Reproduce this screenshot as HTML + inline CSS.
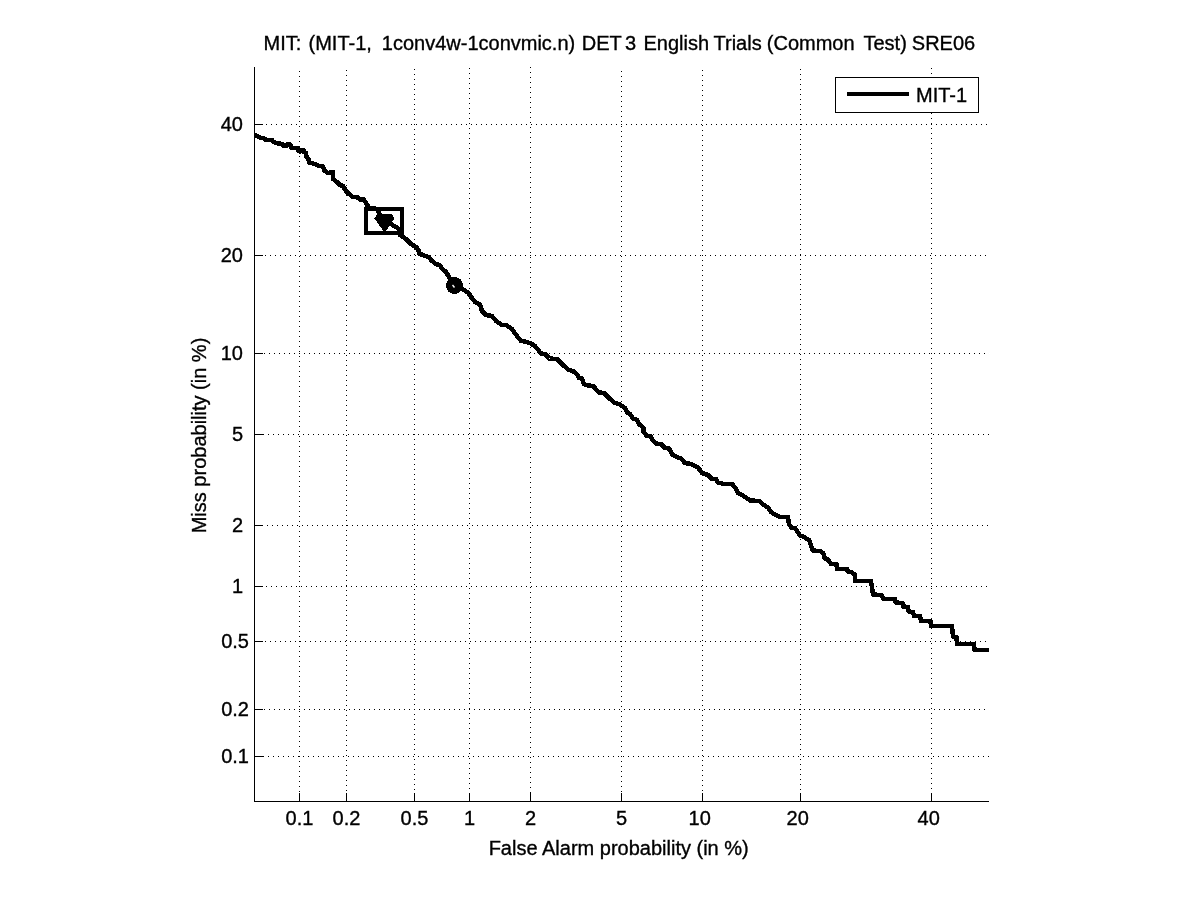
<!DOCTYPE html>
<html><head><meta charset="utf-8"><title>DET plot</title>
<style>
html,body{margin:0;padding:0;background:#fff;}
body{width:1201px;height:900px;overflow:hidden;}
svg{display:block;}
text{font-family:"Liberation Sans",sans-serif;font-size:20px;fill:#000;stroke:#000;stroke-width:0.35px;}
.g{stroke:#000;stroke-width:1;stroke-dasharray:1 4;fill:none;shape-rendering:crispEdges;}
.a{stroke:#000;stroke-width:1;fill:none;shape-rendering:crispEdges;}
.c{stroke:#000;stroke-width:4;fill:none;shape-rendering:crispEdges;stroke-linejoin:round;stroke-linecap:butt;}
</style></head><body>
<svg width="1201" height="900" viewBox="0 0 1201 900">
<rect x="0" y="0" width="1201" height="900" fill="#fff"/>

<line class="g" x1="299.5" y1="71" x2="299.5" y2="793"/>
<line class="g" x1="263" y1="756.5" x2="989" y2="756.5"/>
<line class="a" x1="299.5" y1="793" x2="299.5" y2="801"/>
<line class="a" x1="254" y1="756.5" x2="263" y2="756.5"/>
<text x="299.5" y="824.6" text-anchor="middle">0.1</text>
<text x="249" y="763" text-anchor="end">0.1</text>
<line class="g" x1="346.5" y1="70" x2="346.5" y2="793"/>
<line class="g" x1="264" y1="709.5" x2="989" y2="709.5"/>
<line class="a" x1="346.5" y1="793" x2="346.5" y2="801"/>
<line class="a" x1="254" y1="709.5" x2="263" y2="709.5"/>
<text x="346.5" y="824.6" text-anchor="middle">0.2</text>
<text x="249" y="716" text-anchor="end">0.2</text>
<line class="g" x1="414.5" y1="69" x2="414.5" y2="793"/>
<line class="g" x1="265" y1="641.5" x2="989" y2="641.5"/>
<line class="a" x1="414.5" y1="793" x2="414.5" y2="801"/>
<line class="a" x1="254" y1="641.5" x2="263" y2="641.5"/>
<text x="414.5" y="824.6" text-anchor="middle">0.5</text>
<text x="249" y="648" text-anchor="end">0.5</text>
<line class="g" x1="469.5" y1="68" x2="469.5" y2="793"/>
<line class="g" x1="266" y1="586.5" x2="989" y2="586.5"/>
<line class="a" x1="469.5" y1="793" x2="469.5" y2="801"/>
<line class="a" x1="254" y1="586.5" x2="263" y2="586.5"/>
<text x="469.5" y="824.6" text-anchor="middle">1</text>
<text x="243" y="593" text-anchor="end">1</text>
<line class="g" x1="530.5" y1="67" x2="530.5" y2="793"/>
<line class="g" x1="267" y1="525.5" x2="989" y2="525.5"/>
<line class="a" x1="530.5" y1="793" x2="530.5" y2="801"/>
<line class="a" x1="254" y1="525.5" x2="263" y2="525.5"/>
<text x="530.5" y="824.6" text-anchor="middle">2</text>
<text x="243" y="532" text-anchor="end">2</text>
<line class="g" x1="621.5" y1="71" x2="621.5" y2="793"/>
<line class="g" x1="263" y1="434.5" x2="989" y2="434.5"/>
<line class="a" x1="621.5" y1="793" x2="621.5" y2="801"/>
<line class="a" x1="254" y1="434.5" x2="263" y2="434.5"/>
<text x="621.5" y="824.6" text-anchor="middle">5</text>
<text x="243" y="441" text-anchor="end">5</text>
<line class="g" x1="702.5" y1="70" x2="702.5" y2="793"/>
<line class="g" x1="264" y1="353.5" x2="989" y2="353.5"/>
<line class="a" x1="702.5" y1="793" x2="702.5" y2="801"/>
<line class="a" x1="254" y1="353.5" x2="263" y2="353.5"/>
<text x="699.7" y="824.6" text-anchor="middle">10</text>
<text x="243" y="360" text-anchor="end">10</text>
<line class="g" x1="800.5" y1="69" x2="800.5" y2="793"/>
<line class="g" x1="265" y1="255.5" x2="989" y2="255.5"/>
<line class="a" x1="800.5" y1="793" x2="800.5" y2="801"/>
<line class="a" x1="254" y1="255.5" x2="263" y2="255.5"/>
<text x="797.7" y="824.6" text-anchor="middle">20</text>
<text x="243" y="262" text-anchor="end">20</text>
<line class="g" x1="931.5" y1="68" x2="931.5" y2="793"/>
<line class="g" x1="266" y1="124.5" x2="989" y2="124.5"/>
<line class="a" x1="931.5" y1="793" x2="931.5" y2="801"/>
<line class="a" x1="254" y1="124.5" x2="263" y2="124.5"/>
<text x="928.7" y="824.6" text-anchor="middle">40</text>
<text x="243" y="131" text-anchor="end">40</text>
<line class="a" x1="254.5" y1="67" x2="254.5" y2="802"/>
<line class="a" x1="254" y1="801.5" x2="989" y2="801.5"/>
<path class="c" style="stroke-width:4.5" d="M254.6 135 L258 136.5 L260 137.5 L264.5 138.5 L265.5 140 L272 140 L273 141.75 L276 143 L282.5 144 L283.5 146 L286 146 L287.5 144.5 L290.5 144.75 L291.5 148 L297.5 148 L298.5 151 L300 151.5 L301 150.5 L303.5 150.5 L304.5 152.5 L306 153 L306.5 157 L308.5 159 L309 162.5 L315 164 L319 166 L322.5 166 L324.5 170.5 L328 173 L333 172 L333 179 L337 182 L340 185 L343 186 L346 191 L349 194 L353 197 L357 197 L360 199.5 L363.5 199 L366 203 L367.5 205.5 L369.5 208 L377.5 209 L379 213 L382 217 L386 220.5 L391.5 224.3 L399 229 L400 235 L406 239 L411 244 L416 247 L418.5 250 L419 253.5 L424 255.5 L429 257 L431 260 L435 263.5 L440 265.5 L442.5 269 L446 272 L449 277 L454.5 285.5 L463 289.5 L468 292.5 L472 298 L475 302 L480 304.5 L482 311 L486 315 L492 316 L496 321 L502 325 L506 325 L512 329 L515 333.5 L521 341 L525 341.5 L530 343 L535 346 L541 353.5 L545 354 L549.5 358.5 L557 359 L563 365 L568 369.5 L573 371 L577 374.5 L579 378 L582 378.5 L584 384 L588 385.5 L593 386 L599 392.5 L604 393 L610 399 L615 403 L620 404.5 L625 408 L627 412.5 L630 414 L633 418.5 L636.5 419.5 L639 424 L643.5 428 L643.5 432 L647 436 L650.5 436 L652.5 440 L657 444 L661 444 L665 448 L669.5 448.5 L672.5 455 L677 457 L681 458.5 L685 463 L691 464 L698 467.5 L702 473 L708 475 L712 479 L716 479 L718 482.5 L724 484 L732 484 L735 487.5 L738 493 L743 495.5 L750 500.5 L759 501 L764 505 L768 507.5 L771 512 L775 514.5 L780 517 L788 517 L789 524 L791.5 528 L795 528 L800 535.5 L804 537 L809.5 540.5 L812.5 550.5 L820 551 L823.5 553.5 L824.5 558 L828.5 560 L831 564 L836.5 564 L837 569 L847 569 L847.5 571.5 L851.5 572 L855 575 L855 581 L871 581 L873 594.5 L881.5 595 L883.5 599 L895 599 L895.5 602.5 L902.5 603 L903 606.5 L908 607 L908.5 611.5 L913 612 L914 616 L920 616 L921 621 L930.5 621 L931 626 L952 626 L953 636.5 L956.5 637 L957 644 L974 644 L974.5 650 L989 650"/>
<rect x="366" y="209" width="36" height="24" fill="none" stroke="#000" stroke-width="4" shape-rendering="crispEdges"/>
<path d="M377.5 214 L392 214 L394.5 218.5 L386 231.2 L383.5 231.2 L374.5 218.5 Z" fill="#000" shape-rendering="crispEdges"/>
<circle cx="454.5" cy="285.5" r="8.5" fill="#000" shape-rendering="crispEdges"/>
<path d="M452.5 285 L454.5 287.5" stroke="#fff" stroke-width="1.4" fill="none"/>
<rect x="835.5" y="77.5" width="143" height="35" fill="#fff" stroke="#000" stroke-width="1" shape-rendering="crispEdges"/>
<line class="c" x1="847" y1="94" x2="909" y2="94"/>
<text x="916" y="102">MIT-1</text>
<text y="50.4"><tspan x="263.5">MIT: </tspan><tspan x="308.5">(MIT-1, </tspan><tspan x="381.8">1conv4w-1convmic.n) </tspan><tspan x="581.8">DET </tspan><tspan x="625.0">3 </tspan><tspan x="643.5">English </tspan><tspan x="713.5">Trials </tspan><tspan x="766.8">(Common </tspan><tspan x="863.5">Test) </tspan><tspan x="911.8">SRE06 </tspan></text>
<text x="618.7" y="854.6" text-anchor="middle">False Alarm probability (in %)</text>
<text transform="translate(206,435.5) rotate(-90)" text-anchor="middle">Miss probability (in %)</text>
</svg></body></html>
